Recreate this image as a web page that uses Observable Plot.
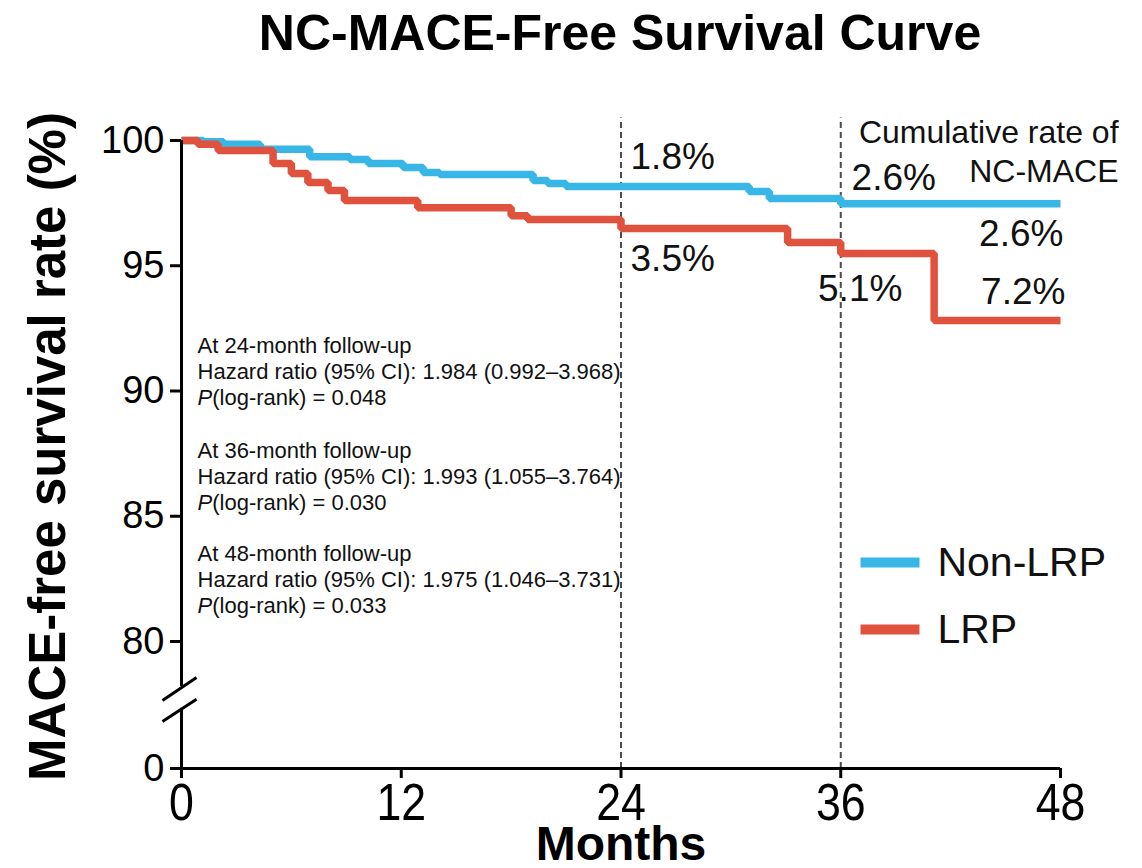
<!DOCTYPE html>
<html><head><meta charset="utf-8">
<script src="https://cdn.jsdelivr.net/npm/d3@7"></script>
<script src="https://cdn.jsdelivr.net/npm/@observablehq/plot@0.6"></script>
<style>
body{margin:0;background:#fff;font-family:"Liberation Sans",Arial,sans-serif;}
#title{height:70px;box-sizing:border-box;padding:8px 0 0 98px;width:1142px;text-align:center;font-weight:bold;font-size:50px;line-height:50px;color:#000;white-space:nowrap;}
#chart svg{display:block}
</style></head><body>
<div id="title">NC-MACE-Free Survival Curve</div>
<div id="chart"></div>
<script>
// ---- data ----
const nonLrpMonths = [0, 1.2, 2.3, 4.3, 7.0, 9.2, 10.2, 12.1, 13.2, 14.1, 19.2, 20.0, 21.0, 31.0, 32.1, 36.0, 48];
const nonLrpSurv   = [100, 99.95, 99.85, 99.65, 99.35, 99.24, 99.08, 98.92, 98.72, 98.64, 98.4, 98.28, 98.16, 97.96, 97.68, 97.48, 97.48];
const lrpMonths = [0, 0.9, 2.0, 5.0, 6.0, 6.9, 8.0, 8.9, 12.9, 18.0, 18.9, 24.0, 33.1, 36.0, 41.1, 48];
const lrpSurv   = [100, 99.85, 99.6, 99.08, 98.68, 98.32, 98.0, 97.6, 97.32, 97.0, 96.85, 96.49, 95.93, 95.49, 92.81, 92.81];
const groups = ["Non-LRP", "LRP"];
const colors = ["#38b6e6", "#e0523d"];
const xTicks = [0, 12, 24, 36, 48];
const yTicks = [0, 80, 85, 90, 95, 100];
const landmarks = [24, 36];
const rateNonLrp = ["1.8%", "2.6%", "2.6%"];
const rateLrp = ["3.5%", "5.1%", "7.2%"];
const followUps = [24, 36, 48];
const hazard = ["1.984", "1.993", "1.975"];
const ciText = ["0.992–3.968", "1.055–3.764", "1.046–3.731"];
const pText = ["0.048", "0.030", "0.033"];

// ---- broken y axis: the value 0 is drawn at this position of the scale ----
const ZERO_AT = 74.93;
const yPos = v => (v === 0 ? ZERO_AT : v);

// ---- build tables ----
const nonLrp = nonLrpMonths.map((m, i) => ({m, s: nonLrpSurv[i]}));
const lrp = lrpMonths.map((m, i) => ({m, s: lrpSurv[i]}));

// annotation placements (data units)
const rateLabels = [
  {t: rateNonLrp[0], x: 24.52, y: 99.93, a: "start"},
  {t: rateNonLrp[1], x: 36.59, y: 99.09, a: "start"},
  {t: rateNonLrp[2], x: 48.16, y: 96.82, a: "end"},
  {t: rateLrp[0], x: 24.52, y: 95.82, a: "start"},
  {t: rateLrp[1], x: 34.76, y: 94.66, a: "start"},
  {t: rateLrp[2], x: 48.27, y: 94.54, a: "end"}
];
const statBlocks = followUps.map((f, i) => ({
  text: `At ${f}-month follow-up\nHazard ratio (95% CI): ${hazard[i]} (${ciText[i]})\nP(log-rank) = ${pText[i]}`,
  y: [92.24, 88.05, 83.94][i]
}));
const legend = groups.map((g, i) => ({g, c: colors[i], y: [83.15, 80.48][i]}));
const breakMarks = [
  {x1: -1.04, y1: 77.64, x2: 0.82, y2: 78.56},
  {x1: -1.04, y1: 76.81, x2: 0.82, y2: 77.69}
];

const FONT = "Liberation Sans, Arial, sans-serif";

const chart = Plot.plot({
  width: 1142, height: 798,
  marginTop: 70, marginBottom: 100, marginLeft: 181, marginRight: 82,
  style: {background: "white", fontFamily: FONT, color: "black", overflow: "visible"},
  x: {domain: [0, 48], axis: null},
  y: {domain: [ZERO_AT, 100], axis: null},
  marks: [
    Plot.ruleX(landmarks, {x: d => d, y1: yPos(0), y2: 100.9, stroke: "#4a4a4a", strokeWidth: 2, strokeDasharray: "6,4"}),
    Plot.line(nonLrp, {x: "m", y: "s", curve: "step-after", stroke: colors[0], strokeWidth: 7.5, strokeLinejoin: "miter", strokeLinecap: "butt"}),
    Plot.line(lrp, {x: "m", y: "s", curve: "step-after", stroke: colors[1], strokeWidth: 7.5, strokeLinejoin: "miter", strokeLinecap: "butt"}),
    Plot.ruleX([0], {y1: 78.2, y2: 100, stroke: "black", strokeWidth: 3}),
    Plot.ruleX([0], {y1: yPos(0), y2: 77.33, stroke: "black", strokeWidth: 3}),
    Plot.ruleY([yPos(0)], {x1: 0, x2: 48, stroke: "black", strokeWidth: 3}),
    Plot.link(breakMarks, {x1: "x1", y1: "y1", x2: "x2", y2: "y2", stroke: "black", strokeWidth: 3}),
    Plot.axisY({ticks: yTicks.map(yPos), tickSize: 11, tickPadding: 6, fontSize: 38, strokeWidth: 3, label: null,
      tickFormat: d => (d === ZERO_AT ? "0" : String(d))}),
    Plot.axisX({ticks: xTicks, tickSize: 10, tickPadding: 5, fontSize: 52, strokeWidth: 3, label: null, tickFormat: d => String(d)}),
    Plot.text(rateLabels.filter(d => d.a === "start"), {x: "x", y: "y", text: "t", textAnchor: "start", lineAnchor: "top", fontSize: 37, fill: "#111"}),
    Plot.text(rateLabels.filter(d => d.a === "end"), {x: "x", y: "y", text: "t", textAnchor: "end", lineAnchor: "top", fontSize: 37, fill: "#111"}),
    Plot.text(["Cumulative rate of\nNC-MACE"], {x: 51.17, y: 100.99, text: d => d, textAnchor: "end", lineAnchor: "top", lineHeight: 1.22, fontSize: 32, fill: "#111"}),
    Plot.link(legend, {x1: 37.08, x2: 40.3, y1: "y", y2: "y", stroke: "c", strokeWidth: 10}),
    Plot.text(legend, {x: 41.28, y: "y", text: "g", textAnchor: "start", lineAnchor: "middle", fontSize: 41, fill: "#111"}),
    Plot.text(statBlocks, {x: 0.874, y: "y", text: "text", textAnchor: "start", lineAnchor: "top", lineHeight: 26 / 22, fontSize: 22, fill: "#111"}),
    Plot.text(["MACE-free survival rate (%)"], {frameAnchor: "left", text: d => d, rotate: -90, textAnchor: "middle", lineAnchor: "middle", dx: -133, dy: -8, fontSize: 51, fontWeight: "bold", fill: "black"}),
    Plot.text(["Months"], {frameAnchor: "bottom", text: d => d, lineAnchor: "top", dy: 57, fontSize: 48, fontWeight: "bold", fill: "black"})
  ]
});

// narrow the x tick labels (condensed look of the reference)
chart.querySelectorAll('g[aria-label="x-axis tick label"] text').forEach(t => {
  const tr = t.getAttribute("transform");
  if (tr) t.setAttribute("transform", tr + " scale(0.86,1)");
});

// italic P in "P(log-rank)"
chart.querySelectorAll("text, tspan").forEach(el => {
  if (el.childNodes.length === 1 && el.firstChild.nodeType === 3 && el.textContent.startsWith("P(log-rank)")) {
    const rest = el.textContent.slice(1);
    el.textContent = "";
    const it = document.createElementNS("http://www.w3.org/2000/svg", "tspan");
    it.setAttribute("font-style", "italic");
    it.textContent = "P";
    el.appendChild(it);
    el.appendChild(document.createTextNode(rest));
  }
});

document.getElementById("chart").appendChild(chart);
</script></body></html>
